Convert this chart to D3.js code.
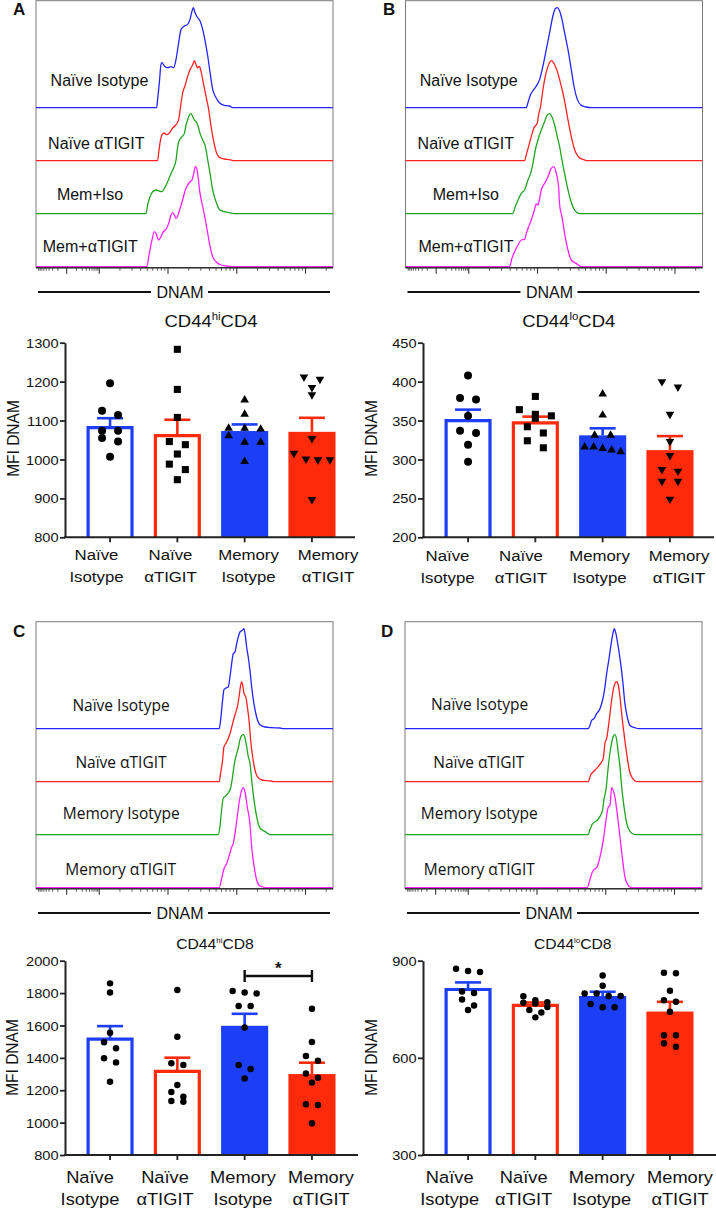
<!DOCTYPE html>
<html><head><meta charset="utf-8">
<script src="https://cdn.jsdelivr.net/npm/d3@7"></script>
<style>
body{margin:0;background:#fff}
svg{display:block}
text{font-family:"Liberation Sans",Arial,Helvetica,sans-serif;fill:#111}
</style></head>
<body><svg id="c" width="716" height="1210"></svg>
<script>
// ---------------- DATA ----------------
const groups = ["Naïve Isotype","Naïve αTIGIT","Memory Isotype","Memory αTIGIT"];
const groupLabelLines = [["Naïve","Isotype"],["Naïve","αTIGIT"],["Memory","Isotype"],["Memory","αTIGIT"]];
const histLabelsAB = ["Naïve Isotype","Naïve αTIGIT","Mem+Iso","Mem+αTIGIT"];
const histLabelsCD = ["Naïve Isotype","Naïve αTIGIT","Memory Isotype","Memory αTIGIT"];
const axisTitle = "DNAM";
const yAxisTitle = "MFI DNAM";

// histogram curves: [log10 DNAM (decades), % of mode]
const hA1=[[1.835,0],[1.849,8.3],[1.874,25],[1.898,43.3],[1.913,45],[1.947,41.7],[1.995,40],[2.044,41],[2.082,40],[2.117,48.3],[2.155,65],[2.19,78.3],[2.238,81.7],[2.286,83.3],[2.32,88.3],[2.35,96.7],[2.369,100],[2.393,95],[2.432,90],[2.466,86.7],[2.505,78.3],[2.544,65],[2.578,51.7],[2.612,35],[2.65,18.3],[2.699,10],[2.748,5],[2.82,2.3],[2.893,1.7],[2.941,0]];
const hA2=[[1.849,0],[1.864,7.7],[1.884,17.7],[1.913,26],[1.947,27.7],[1.98,26],[2.019,27.7],[2.068,32.7],[2.117,36],[2.155,41],[2.19,57.7],[2.213,67.7],[2.252,76],[2.286,84.3],[2.32,91],[2.359,96],[2.383,100],[2.408,96],[2.432,92.7],[2.456,94.3],[2.481,89.3],[2.514,77.7],[2.553,64.3],[2.592,51],[2.626,34.3],[2.66,21],[2.699,9.3],[2.748,3.3],[2.82,1.7],[2.893,1],[2.966,0]];
const hA3=[[1.68,0],[1.704,8.7],[1.738,17],[1.777,22],[1.825,23.7],[1.874,22.7],[1.913,22],[1.947,25.3],[1.995,32],[2.044,40.3],[2.078,45.3],[2.117,53.7],[2.141,67],[2.165,73.7],[2.204,77],[2.238,80.3],[2.262,88.7],[2.286,93.7],[2.311,98.7],[2.335,100],[2.359,97],[2.383,93.7],[2.408,92],[2.432,88.7],[2.466,80.3],[2.505,73.7],[2.544,67],[2.578,53.7],[2.612,40.3],[2.65,23.7],[2.699,12],[2.748,4.3],[2.82,2],[2.893,1],[2.99,0]];
const hA4=[[1.69,0],[1.728,13.3],[1.767,26.7],[1.801,35],[1.825,33.3],[1.864,26.7],[1.898,30],[1.932,35],[1.971,37.3],[2.01,43.3],[2.044,51.7],[2.068,54],[2.092,51.7],[2.117,48.3],[2.141,50.7],[2.175,58.3],[2.213,66.7],[2.252,76.7],[2.286,81.7],[2.32,85],[2.35,86.7],[2.374,93.3],[2.398,100],[2.418,98.3],[2.437,90],[2.466,73.3],[2.505,60],[2.544,46.7],[2.578,33.3],[2.612,20],[2.65,10],[2.699,5],[2.772,1.7],[2.845,0.7],[2.941,0]];

const hB1=[[1.837,0],[1.861,5],[1.9,13.3],[1.948,18.3],[1.997,23.3],[2.031,28.3],[2.079,41.7],[2.128,58.3],[2.176,75],[2.224,91.7],[2.258,99],[2.288,100],[2.322,96.7],[2.356,88.3],[2.394,75],[2.443,58.3],[2.491,38.3],[2.53,21.7],[2.579,8.3],[2.637,2.3],[2.71,0.7],[2.782,0]];
const hB2=[[1.813,0],[1.837,6],[1.871,14.3],[1.91,24.3],[1.948,32.7],[1.997,37.7],[2.016,46],[2.045,54.3],[2.079,71],[2.113,84.3],[2.152,94.3],[2.2,100],[2.249,96],[2.288,89.3],[2.322,81],[2.37,67.7],[2.404,56],[2.443,41],[2.491,24.3],[2.54,11],[2.598,3.7],[2.675,1],[2.733,0]];
const hB3=[[1.643,0],[1.667,5.3],[1.706,12],[1.764,20.3],[1.813,23.7],[1.861,33.7],[1.9,40.3],[1.934,50.3],[1.968,63.7],[2.006,73.7],[2.055,83.7],[2.103,92],[2.142,98.7],[2.176,100],[2.21,97],[2.249,88.7],[2.288,77],[2.322,67],[2.356,53.7],[2.394,40.3],[2.433,27],[2.481,13.7],[2.54,3.7],[2.612,0]];
const hB4=[[1.594,0],[1.628,8.3],[1.667,15],[1.716,21.7],[1.764,26.7],[1.813,27.3],[1.837,33.3],[1.871,40],[1.91,46.7],[1.948,55],[1.982,62.7],[2.006,61.7],[2.031,68.3],[2.055,76.7],[2.103,83.3],[2.152,90],[2.2,98.3],[2.239,100],[2.273,93.3],[2.307,80],[2.322,61.7],[2.356,50],[2.394,33.3],[2.443,16.7],[2.491,6.7],[2.564,3.3],[2.637,0]];

const hC1=[[2.745,0],[2.765,8.3],[2.794,28.3],[2.814,39],[2.843,40.7],[2.876,41.7],[2.901,51.7],[2.926,65],[2.949,75],[2.974,76.7],[2.999,85],[3.022,91.7],[3.047,96.7],[3.08,98.3],[3.105,100],[3.124,93.3],[3.144,81.7],[3.167,71.7],[3.192,58.3],[3.217,41.7],[3.25,25],[3.289,11.7],[3.337,4],[3.41,1.7],[3.508,1],[3.628,0.7],[3.676,0]];
const hC2=[[2.745,0],[2.765,8.3],[2.794,21.7],[2.814,35],[2.843,38.3],[2.876,43.3],[2.91,50],[2.94,58.3],[2.974,66.7],[3.009,75],[3.037,86.7],[3.057,96.7],[3.071,100],[3.086,96.7],[3.105,88.3],[3.134,84.3],[3.154,75],[3.183,58.3],[3.202,41.7],[3.231,25],[3.265,11.7],[3.3,5],[3.362,1.7],[3.435,1],[3.508,0.7],[3.532,0]];
const hC3=[[2.731,0],[2.756,8.3],[2.78,25],[2.804,36.7],[2.843,39],[2.876,41.7],[2.911,46.7],[2.94,58.3],[2.959,68.3],[2.988,78.3],[3.022,86.7],[3.047,95],[3.071,99],[3.095,100],[3.12,96.7],[3.144,88.3],[3.167,78.3],[3.192,71.7],[3.217,55],[3.25,35],[3.289,18.3],[3.337,6.7],[3.41,3.3],[3.483,0]];
const hC4=[[2.745,0],[2.78,9],[2.814,19],[2.853,24],[2.891,32.3],[2.926,40.7],[2.949,44],[2.974,54],[3.007,70.7],[3.036,85.7],[3.071,97.3],[3.095,100],[3.12,95.7],[3.153,80.7],[3.192,64],[3.217,40.7],[3.24,27.3],[3.279,10.7],[3.327,2.3],[3.385,0.7],[3.433,0]];

const hD1=[[2.745,0],[2.77,3.3],[2.795,8.3],[2.828,10],[2.868,15],[2.916,20],[2.94,25],[2.964,31.7],[2.988,41.7],[3.013,55],[3.051,71.7],[3.086,88.3],[3.109,96.7],[3.124,100],[3.148,95],[3.182,81.7],[3.217,65],[3.246,48.3],[3.279,25],[3.313,11.7],[3.352,3.3],[3.425,1],[3.473,0]];
const hD2=[[2.745,0],[2.78,6.7],[2.818,10],[2.868,13.3],[2.926,18.3],[2.964,23.3],[2.988,38.3],[3.013,43.3],[3.051,61.7],[3.086,81.7],[3.119,95],[3.158,100],[3.182,96.7],[3.207,85],[3.231,68.3],[3.265,48.3],[3.304,28.3],[3.342,11.7],[3.391,3.3],[3.449,0]];
const hD3=[[2.745,0],[2.77,5],[2.809,11],[2.857,13.3],[2.916,18.3],[2.955,25],[2.974,35],[3.003,45],[3.037,68.3],[3.072,86.7],[3.109,98.3],[3.134,100],[3.158,95],[3.182,81.7],[3.207,68.3],[3.231,48.3],[3.265,28.3],[3.304,11.7],[3.352,3.3],[3.425,0]];
const hD4=[[2.731,0],[2.76,5.7],[2.795,14],[2.828,18],[2.868,20],[2.916,30.7],[2.964,47.3],[3.003,67.3],[3.037,80.7],[3.061,82.3],[3.086,100],[3.109,97.3],[3.134,90.7],[3.167,74],[3.207,50.7],[3.246,27.3],[3.279,10.7],[3.327,2.3],[3.376,0]];

// histogram axis (decades)
const histDomain = [0.08, 4.40];
const histZero = 0.526;
const histMajorTicks = [0.526, 1, 2, 3, 4];

// bar charts: means, SEM, individual mice
const cd4hiMean = [1082, 1061, 1073, 1071];
const cd4hiSem  = [24, 41, 17, 36];
const cd4hiPts = [
  [1196,1125,1114,1074,1074,1055,1046,1007],
  [1283,1180,1108,1046,1038,1014,988,974,948],
  [1153,1116,1080,1080,1078,1061,1044,1044,995],
  [1212,1206,1185,1166,1054,1016,1001,999,999,897]];
const cd4hiTicks = [800,900,1000,1100,1200,1300];

const cd4loMean = [350, 347, 331, 312];
const cd4loSem  = [14, 8, 9, 18];
const cd4loPts = [
  [408,379,377,356,337,334,319,297],
  [381,364,358,356,353,342,334,324,315],
  [384,357,331,331,316,316,314,312,310],
  [400,393,358,323,305,287,285,272,272,249]];
const cd4loTicks = [200,250,300,350,400,450];

const cd8hiMean = [1516, 1317, 1598, 1300];
const cd8hiSem  = [80, 84, 74, 70];
const cd8hiPts = [
  [1860,1804,1555,1496,1459,1397,1372,1253],
  [1819,1531,1366,1356,1232,1189,1160,1133,1129],
  [1813,1804,1798,1720,1720,1588,1356,1331,1273],
  [1703,1498,1411,1382,1304,1277,1247,1113,1109,996]];
const cd8hiTicks = [800,1000,1200,1400,1600,1800,2000];

const cd8loMean = [811, 762, 791, 743];
const cd8loSem  = [22, 9, 13, 30];
const cd8loPts = [
  [875,868,865,805,800,780,762,748],
  [790,778,772,770,768,757,748,740,725],
  [854,823,799,799,791,791,766,756,756],
  [863,861,807,778,773,742,670,670,645,634]];
const cd8loTicks = [300,600,900];

const sigText = "*";

// ---------------- STYLE / LAYOUT ----------------
const histColors = ["#2424ff","#ff2222","#22a322","#ff22ff"];
const barColors = ["#1c3ff5","#ff2a0a","#1c3ff5","#ff2a0a"];
const barFilled = [false,false,true,true];
const svg = d3.select("#c");
const BOX_W = 297, BOX_H = 267, ROW0 = 107, ROW_STEP = 53;

const histPanels = [
  {letter:"A", lx:13, ly:15, x0:36, y0:0.7, curves:[hA1,hA2,hA3,hA4], labels:histLabelsAB, font:'"Liberation Sans",Arial,sans-serif', fs:16,
   lab:[[99.5,86],[96.3,149],[90,200],[90.3,252]]},
  {letter:"B", lx:383, ly:15, x0:405.5, y0:0.7, curves:[hB1,hB2,hB3,hB4], labels:histLabelsAB, font:'"Liberation Sans",Arial,sans-serif', fs:16,
   lab:[[468.7,86],[465.8,149],[465.8,200],[466,252]]},
  {letter:"C", lx:13, ly:636.5, x0:36, y0:621.7, curves:[hC1,hC2,hC3,hC4], labels:histLabelsCD, font:'"Open Sans",sans-serif', fs:15.5,
   lab:[[121,711],[121,768],[121.3,819],[120.7,875]]},
  {letter:"D", lx:381, ly:636.5, x0:405, y0:621.7, curves:[hD1,hD2,hD3,hD4], labels:histLabelsCD, font:'"Open Sans",sans-serif', fs:15.5,
   lab:[[479.7,710],[478.8,768],[479.3,819],[479.3,875]]}
];

// minor tick positions of a log (biexponential-like) flow axis
function histMinorTicks(){
  const t=[];
  for(let d=1; d<=4; d++) for(let k=2;k<=9;k++){const v=d+Math.log10(k); if(v<histDomain[1]) t.push(v);}
  for(let k=2;k<=9;k++) t.push(histZero+Math.log10(k)*(1-histZero));
  for(let k=2;k<=9;k++) t.push(histZero-Math.log10(k)*(histZero-histDomain[0]-0.02));
  return t;
}

histPanels.forEach(p=>{
  const g = svg.append("g");
  const x = d3.scaleLinear().domain(histDomain).range([p.x0, p.x0+BOX_W]);
  const h = d3.scaleLinear().domain([0,100]).range([0,100]);
  const bottom = p.y0 + BOX_H;
  g.append("rect").attr("x",p.x0).attr("y",p.y0).attr("width",BOX_W).attr("height",BOX_H)
    .attr("fill","none").attr("stroke","#7a7a7a").attr("stroke-width",1);
  p.curves.forEach((c,i)=>{
    const base = p.y0 + ROW0 + i*ROW_STEP;
    const pts = [[histDomain[0],0], ...c, [histDomain[1],0]];
    g.append("path").datum(pts)
      .attr("d", d3.line().x(d=>x(d[0])).y(d=>base-h(d[1])).curve(d3.curveMonotoneX))
      .attr("fill","none").attr("stroke",histColors[i]).attr("stroke-width",1.3);
    g.append("text").attr("x",p.lab[i][0]).attr("y",p.lab[i][1]).attr("text-anchor","middle")
      .style("font-family",p.font).style("font-size",p.fs+"px").text(p.labels[i]);
  });
  // bottom axis with log ticks
  g.append("line").attr("x1",p.x0).attr("x2",p.x0+BOX_W).attr("y1",bottom).attr("y2",bottom)
    .attr("stroke","#333").attr("stroke-width",1.4);
  g.selectAll(null).data(histMajorTicks).join("line")
    .attr("x1",d=>x(d)).attr("x2",d=>x(d)).attr("y1",bottom).attr("y2",bottom+6)
    .attr("stroke","#333").attr("stroke-width",1.1);
  g.selectAll(null).data(histMinorTicks()).join("line")
    .attr("x1",d=>x(d)).attr("x2",d=>x(d)).attr("y1",bottom).attr("y2",bottom+3)
    .attr("stroke","#444").attr("stroke-width",0.9);
  // DNAM title with rule
  const ly = bottom + 24.3;
  g.append("line").attr("x1",p.x0+2).attr("x2",p.x0+115).attr("y1",ly).attr("y2",ly).attr("stroke","#111").attr("stroke-width",2);
  g.append("line").attr("x1",p.x0+172).attr("x2",p.x0+294).attr("y1",ly).attr("y2",ly).attr("stroke","#111").attr("stroke-width",2);
  g.append("text").attr("x",p.x0+144).attr("y",ly+5.6).attr("text-anchor","middle").style("font-size","16px").text(axisTitle);
  // panel letter
  svg.append("text").attr("x",p.lx).attr("y",p.ly).style("font-size","17px").style("font-weight","900").text(p.letter);
});

// ---------------- BAR CHARTS ----------------
const symA = [d3.symbolCircle, d3.symbolSquare, d3.symbolTriangle, d3.symbolTriangle];
const barPanels = [
  {title:["CD44","hi","CD4"], tfs:16.5, sup:0.62, tp:[211,327], axisX:65, axisEnd:355, yTop:342.7, yBot:537.3, domain:[800,1300], ticks:cd4hiTicks,
   mean:cd4hiMean, sem:cd4hiSem, pts:cd4hiPts, sym:symA, symSize:[50,50,32,32], thr:7.2, step:16, maxW:36,
   labX:[96.5,170.5,248.5,328], labY:[560,581.7], lfs:15, ylab:[19,438.5]},
  {title:["CD44","lo","CD4"], tfs:16.5, sup:0.62, tp:[568.7,327], axisX:423, axisEnd:714, yTop:342.7, yBot:537.3, domain:[200,450], ticks:cd4loTicks,
   mean:cd4loMean, sem:cd4loSem, pts:cd4loPts, sym:symA, symSize:[50,50,32,32], thr:7.2, step:16, maxW:36,
   labX:[447.5,521,599.5,679], labY:[561,582.7], lfs:15, ylab:[377,438.5]},
  {title:["CD44","hi","CD8"], tfs:14, sup:0.5, tp:[215,948.5], axisX:65, axisEnd:358, yTop:960.7, yBot:1155, domain:[800,2000], ticks:cd8hiTicks,
   mean:cd8hiMean, sem:cd8hiSem, pts:cd8hiPts, sym:null, symSize:[33,33,33,33], thr:6, step:12, maxW:38,
   labX:[90,165,243,321], labY:[1183.3,1205], lfs:16.3, ylab:[18.3,1057.5], sig:[2,3]},
  {title:["CD44","lo","CD8"], tfs:14, sup:0.5, tp:[572.8,948.5], axisX:423, axisEnd:716, yTop:960.7, yBot:1155, domain:[300,900], ticks:cd8loTicks,
   mean:cd8loMean, sem:cd8loSem, pts:cd8loPts, sym:null, symSize:[33,33,33,33], thr:6, step:12, maxW:38,
   labX:[449.7,523.7,601.7,680], labY:[1183,1205], lfs:16.3, ylab:[377,1057.5]}
];

function swarm(vals, y, cx, thr, step, maxW){
  const s = [...vals].sort((a,b)=>b-a);
  const rows = [];
  s.forEach(v=>{const py=y(v); const r=rows[rows.length-1]; if(r && py-r.y0<thr) r.v.push(v); else rows.push({y0:py, v:[v]});});
  const out = [];
  rows.forEach(r=>{const n=r.v.length; const st=n>1?Math.min(step,maxW/(n-1)):0;
    r.v.forEach((v,k)=>out.push({v, x:cx+(k-(n-1)/2)*st, y:y(v)}));});
  return out;
}
const SX = 1.12;
function stext(g,x,y,str,fs,anchor,sx){
  return g.append("text").attr("transform",`translate(${x},${y}) scale(${sx},1)`)
    .attr("text-anchor",anchor).style("font-size",fs+"px").text(str);
}

barPanels.forEach(p=>{
  const g = svg.append("g");
  const y = d3.scaleLinear().domain(p.domain).range([p.yBot, p.yTop]);
  const x = d3.scaleBand().domain(groups).range([p.axisX+11.4, p.axisX+280.6]).paddingInner(0.3).paddingOuter(0.15);
  const bw = x.bandwidth();
  groups.forEach((gn,i)=>{
    const x0 = x(gn), cx = x0+bw/2, m = p.mean[i], col = barColors[i];
    if(barFilled[i]){
      g.append("rect").attr("x",x0).attr("y",y(m)).attr("width",bw).attr("height",p.yBot-y(m)).attr("fill",col);
    } else {
      g.append("path").attr("d",`M${x0+1.6},${p.yBot}V${y(m)}H${x0+bw-1.6}V${p.yBot}`)
        .attr("fill","none").attr("stroke",col).attr("stroke-width",3.2);
    }
    const ye = y(m+p.sem[i]);
    g.append("line").attr("x1",cx).attr("x2",cx).attr("y1",y(m)).attr("y2",ye).attr("stroke",col).attr("stroke-width",2.6);
    g.append("line").attr("x1",cx-13).attr("x2",cx+13).attr("y1",ye).attr("y2",ye).attr("stroke",col).attr("stroke-width",2.6);
  });
  // y axis
  const ax = g.append("g").attr("transform",`translate(${p.axisX},0)`)
    .call(d3.axisLeft(y).tickValues(p.ticks).tickSize(5).tickSizeOuter(0).tickFormat(d3.format("d")));
  ax.attr("font-family",null).attr("font-size",null);
  ax.select(".domain").attr("stroke","#222").attr("stroke-width",2);
  ax.selectAll(".tick line").attr("stroke","#222").attr("stroke-width",1.8);
  ax.selectAll(".tick text").attr("x",-6.5/1.16).attr("dy","0.36em").attr("transform","scale(1.16,1)")
    .style("font-size","12.6px").attr("fill","#111");
  // x axis
  g.append("line").attr("x1",p.axisX-1).attr("x2",p.axisEnd).attr("y1",p.yBot).attr("y2",p.yBot).attr("stroke","#222").attr("stroke-width",2);
  g.selectAll(null).data(groups).join("line")
    .attr("x1",d=>x(d)+bw/2).attr("x2",d=>x(d)+bw/2).attr("y1",p.yBot).attr("y2",p.yBot+5)
    .attr("stroke","#222").attr("stroke-width",1.8);
  // points
  groups.forEach((gn,i)=>{
    const cx = x(gn)+bw/2;
    const pts = swarm(p.pts[i], y, cx, p.thr, p.step, p.maxW);
    const type = p.sym ? p.sym[i] : d3.symbolCircle;
    const flip = p.sym && i===3;
    g.selectAll(null).data(pts).join("path")
      .attr("transform",d=>`translate(${d.x},${d.y})${flip?" rotate(180)":""}`)
      .attr("d", d3.symbol().type(type).size(p.symSize[i]))
      .attr("fill","#000");
  });
  // title
  const t = g.append("text").attr("transform",`translate(${p.tp[0]},${p.tp[1]}) scale(${SX},1)`)
    .attr("text-anchor","middle").style("font-size",p.tfs+"px");
  t.append("tspan").text(p.title[0]);
  t.append("tspan").text(p.title[1]).style("font-size",(p.tfs*p.sup)+"px").attr("dy",-p.tfs*0.42);
  t.append("tspan").text(p.title[2]).attr("dy",p.tfs*0.42);
  // y title
  g.append("text").attr("transform",`translate(${p.ylab[0]},${p.ylab[1]}) scale(1.08,1) rotate(-90)`)
    .attr("text-anchor","middle").style("font-size","15.5px").text(yAxisTitle);
  // x labels
  groupLabelLines.forEach((ln,i)=>{
    stext(g,p.labX[i],p.labY[0],ln[0],p.lfs,"middle",SX);
    stext(g,p.labX[i],p.labY[1],ln[1],p.lfs,"middle",SX);
  });
  // significance
  if(p.sig){
    const a = x(groups[p.sig[0]])+bw/2, b = x(groups[p.sig[1]])+bw/2, yy = p.yTop+15.3;
    g.append("path").attr("d",`M${a},${yy-6}V${yy+6}M${a},${yy}H${b}M${b},${yy-6}V${yy+6}`)
      .attr("fill","none").attr("stroke","#111").attr("stroke-width",2.4);
    g.append("text").attr("x",(a+b)/2).attr("y",yy-2).attr("text-anchor","middle")
      .style("font-size","17px").style("font-weight","700").text(sigText);
  }
});
</script></body></html>
